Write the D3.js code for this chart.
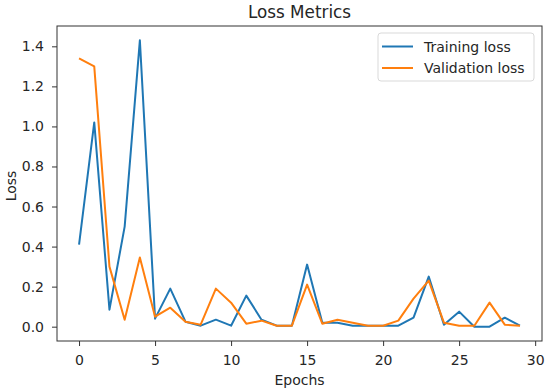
<!DOCTYPE html>
<html lang="en">
<head>
  <meta charset="UTF-8" />
  <title>Loss Metrics</title>
  <script src="https://d3js.org/d3.v7.min.js"></script>
  <style>
    body {margin: 0; background: #fff;}
    text {font-family: "DejaVu Sans", sans-serif; fill: #262626;}
  </style>
</head>
<body>
<script>
  // epochs and loss values
  const epochs = d3.range(0, 30);
  const trainingLoss = [0.41, 1.02, 0.085, 0.50, 1.43, 0.04, 0.19, 0.025, 0.005, 0.035,
                        0.005, 0.155, 0.035, 0.005, 0.005, 0.31, 0.02, 0.02, 0.005, 0.005,
                        0.005, 0.005, 0.045, 0.25, 0.01, 0.075, 0.0, 0.0, 0.045, 0.005];
  const validationLoss = [1.34, 1.30, 0.30, 0.035, 0.345, 0.05, 0.095, 0.025, 0.01, 0.19,
                          0.12, 0.015, 0.03, 0.005, 0.005, 0.21, 0.015, 0.035, 0.02, 0.005,
                          0.005, 0.03, 0.14, 0.23, 0.02, 0.005, 0.005, 0.12, 0.01, 0.005];
  const xTicks = [0, 5, 10, 15, 20, 25, 30];
  const yTicks = [0, 0.2, 0.4, 0.6, 0.8, 1.0, 1.2, 1.4];
  const seriesNames = ["Training loss", "Validation loss"];
  const seriesColors = ["#1f77b4", "#ff7f0e"];

  const width = 550;
  const height = 390;
  const padLeft = 57, padRight = 542, padTop = 26, padBottom = 341;

  const svg = d3.select("body").append("svg")
                .attr("width", width)
                .attr("height", height);

  //****SCALES****
  const xScale = d3.scaleLinear().domain([-1.45, 30.45]).range([padLeft, padRight]);
  const yScale = d3.scaleLinear().domain([-0.0715, 1.5015]).range([padBottom, padTop]);

  //****AXES****
  const xAxis = d3.axisBottom(xScale).tickValues(xTicks).tickSize(5).tickPadding(9)
                  .tickFormat(d3.format("d"));
  const yAxis = d3.axisLeft(yScale).tickValues(yTicks).tickSize(5).tickPadding(8)
                  .tickFormat(d3.format(".1f"));

  const gx = svg.append("g").attr("transform", `translate(0, ${padBottom})`).call(xAxis);
  const gy = svg.append("g").attr("transform", `translate(${padLeft}, 0)`).call(yAxis);
  [gx, gy].forEach(g => {
    g.select(".domain").remove();
    g.selectAll("line").attr("stroke", "#333").attr("stroke-width", 1);
    g.selectAll("text").attr("font-size", "14px").attr("fill", "#262626")
     .attr("font-family", "DejaVu Sans, sans-serif");
  });

  // frame
  svg.append("rect")
     .attr("x", padLeft).attr("y", padTop)
     .attr("width", padRight - padLeft).attr("height", padBottom - padTop)
     .attr("fill", "none").attr("stroke", "#333").attr("stroke-width", 1);

  //****LINES****
  const line = d3.line()
                 .x((d, i) => xScale(epochs[i]))
                 .y(d => yScale(d));

  [trainingLoss, validationLoss].forEach((s, k) => {
    svg.append("path")
       .attr("d", line(s))
       .attr("fill", "none")
       .attr("stroke", seriesColors[k])
       .attr("stroke-width", 2)
       .attr("stroke-linejoin", "round");
  });

  //****TEXT****
  svg.append("text")
     .attr("x", (padLeft + padRight) / 2).attr("y", 18)
     .attr("text-anchor", "middle").attr("font-size", "16.8px")
     .text("Loss Metrics");

  svg.append("text")
     .attr("x", (padLeft + padRight) / 2).attr("y", 385)
     .attr("text-anchor", "middle").attr("font-size", "14px")
     .text("Epochs");

  svg.append("text")
     .attr("transform", "translate(16, 186) rotate(-90)")
     .attr("text-anchor", "middle").attr("font-size", "14px")
     .text("Loss");

  //****LEGEND****
  const legend = svg.append("g").attr("transform", "translate(378, 33)");
  legend.append("rect")
        .attr("width", 156).attr("height", 48).attr("rx", 3)
        .attr("fill", "#fff").attr("fill-opacity", 0.8)
        .attr("stroke", "#d9d9d9");
  const items = legend.selectAll(".legend-item")
                      .data(seriesNames)
                      .join("g")
                      .attr("class", "legend-item")
                      .attr("transform", (d, i) => `translate(0, ${13.5 + i * 21.5})`);
  items.append("line")
       .attr("x1", 4).attr("x2", 35)
       .attr("stroke", (d, i) => seriesColors[i]).attr("stroke-width", 2);
  items.append("text")
       .attr("x", 46).attr("y", 5)
       .attr("font-size", "14px")
       .text(d => d);
</script>
</body>
</html>
